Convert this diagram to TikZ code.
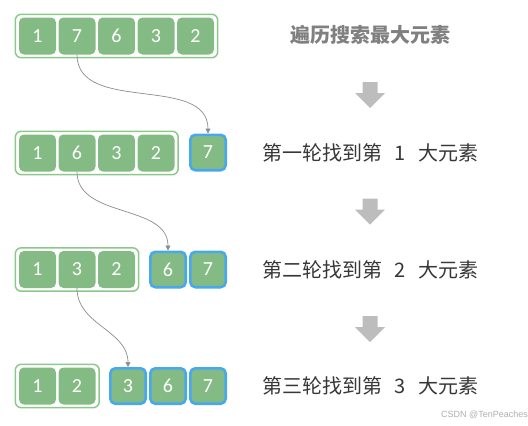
\documentclass[tikz,border=0pt]{standalone}
\usepackage{fontspec}
\setmainfont{Carlito}
\newfontfamily\cjk{Noto Sans CJK SC}
\newfontfamily\wmfont{Liberation Sans}
\usetikzlibrary{arrows.meta,fit}
\definecolor{cellg}{RGB}{132,187,132}
\definecolor{boxg}{RGB}{140,200,138}
\definecolor{cellb}{RGB}{71,169,236}
\definecolor{arrg}{RGB}{189,189,189}
\definecolor{lineg}{RGB}{140,140,140}
\definecolor{titleg}{RGB}{128,128,128}
\definecolor{textg}{RGB}{55,55,55}
\definecolor{wmg}{RGB}{175,175,175}
\begin{document}
\begin{tikzpicture}[x=1pt,y=-1pt,
 gcell/.style={rectangle,rounded corners=5pt,fill=cellg,minimum size=37pt,inner sep=0pt,text=white,font=\fontsize{20}{20}\selectfont},
 bcell/.style={gcell,draw=cellb,line width=2.6pt,minimum size=35.4pt},
 grp/.style={draw=boxg,line width=1.5pt,rounded corners=6pt,inner xsep=3.5pt,inner ysep=3pt},
 link/.style={draw=lineg,line width=0.7pt,-{Triangle[length=5pt,width=5pt]},out=-90,in=90},
 downarr/.pic={\fill[arrg] (-7.5,0) -- (7.5,0) -- (7.5,11) -- (15,11) -- (0,26) -- (-15,11) -- (-7.5,11) -- cycle;},
 lbl/.style={text=textg,font=\cjk\fontsize{20}{20}\selectfont},
 ttl/.style={text=titleg,font=\cjk\bfseries\fontsize{20}{20}\selectfont},
]
\useasboundingbox (0,0) rectangle (528,426);

% row 1
\node[gcell] (a1) at (37.5,36) {1};
\node[gcell] (a2) at (77,36) {7};
\node[gcell] (a3) at (116.5,36) {6};
\node[gcell] (a4) at (156,36) {3};
\node[gcell] (a5) at (195.5,36) {2};
\node[grp,fit=(a1)(a5)] (ga) {};

% row 2
\node[gcell] (b1) at (37.5,153) {1};
\node[gcell] (b2) at (77,153) {6};
\node[gcell] (b3) at (116.5,153) {3};
\node[gcell] (b4) at (156,153) {2};
\node[grp,fit=(b1)(b4)] (gb) {};
\node[bcell] (b7) at (208,152.5) {7};

% row 3
\node[gcell] (c1) at (37.5,269.5) {1};
\node[gcell] (c2) at (77,269.5) {3};
\node[gcell] (c3) at (116.5,269.5) {2};
\node[grp,fit=(c1)(c3)] (gc) {};
\node[bcell] (c6) at (168,269.5) {6};
\node[bcell] (c7) at (208,269.5) {7};

% row 4
\node[gcell] (d1) at (37.5,386) {1};
\node[gcell] (d2) at (77,386) {2};
\node[grp,fit=(d1)(d2)] (gd) {};
\node[bcell] (d3) at (128,386) {3};
\node[bcell] (d6) at (168,386) {6};
\node[bcell] (d7) at (208,386) {7};

% links
\draw[link] (a2.south) to (b7.north);
\draw[link] (b2.south) to (c6.north);
\draw[link] (c2.south) to (d3.north);

% right column
\node[ttl] (t0) at (370,35) {遍历搜索最大元素};
\pic at (370,82) {downarr};
\node[lbl] (t1) at (370.5,153) {第一轮找到第\hspace{0.6em}1\hspace{0.6em}大元素};
\pic at (370,198.5) {downarr};
\node[lbl] (t2) at (370.5,270) {第二轮找到第\hspace{0.6em}2\hspace{0.6em}大元素};
\pic at (370,316) {downarr};
\node[lbl] (t3) at (370.5,386) {第三轮找到第\hspace{0.6em}3\hspace{0.6em}大元素};

\node[anchor=east,text=wmg,font=\wmfont\fontsize{9}{9}\selectfont,inner sep=0pt] (wm) at (528,415) {CSDN @TenPeaches};
\end{tikzpicture}
\end{document}
